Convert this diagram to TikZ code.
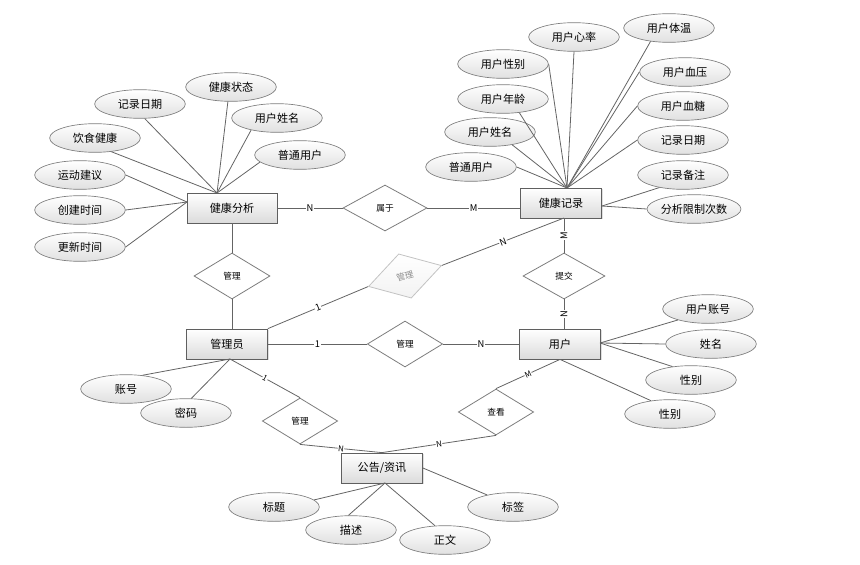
\documentclass[tikz,border=0pt]{standalone}
\usepackage{fontspec}
\setmainfont{Noto Sans CJK SC}
\usetikzlibrary{shapes.geometric,shadows}
\definecolor{lc}{RGB}{100,100,100}
\definecolor{eb}{RGB}{125,125,125}
\definecolor{bb}{RGB}{95,95,95}
\definecolor{gb}{RGB}{195,195,195}
\definecolor{gt}{RGB}{140,140,140}
\begin{document}
\begin{tikzpicture}[x=0.75pt,y=-0.75pt,
  ent/.style={draw=bb, line width=0.6pt, top color=white, bottom color=black!14,
    minimum width=60.75pt, minimum height=22.5pt, inner sep=1pt,
    font=\fontsize{8.3}{10}\selectfont,
    drop shadow={shadow xshift=1pt,shadow yshift=-1pt,opacity=0.25}},
  attr/.style={ellipse, draw=eb, line width=0.5pt, top color=white, bottom color=black!12,
    minimum width=68pt, minimum height=21.5pt, inner sep=0pt,
    font=\fontsize{8.3}{10}\selectfont},
  rel/.style={diamond, draw=eb, line width=0.6pt, fill=white,
    minimum width=56.5pt, minimum height=34.5pt, inner sep=0pt,
    font=\fontsize{6.5}{8}\selectfont},
  con/.style={draw=lc, line width=0.6pt},
  card/.style={fill=white, inner sep=0.6pt, midway, font=\fontsize{7}{8}\selectfont},
  cards/.style={fill=white, inner sep=0.4pt, midway, sloped, font=\fontsize{6}{7}\selectfont}
]
\useasboundingbox (0,0) rectangle (860,564);

% entities
\node[ent, minimum width=67.5pt] (E1) at (232,208) {健康分析};
\node[ent] (E2) at (561,203) {健康记录};
\node[ent] (E3) at (227,344) {管理员};
\node[ent] (E4) at (560,344) {用户};
\node[ent] (E5) at (382,468) {公告/资讯};

% relationships
\node[rel, minimum width=63pt] (R1) at (385,208) {属于};
\node[rel, minimum width=57pt] (R2) at (232,276) {管理};
\node[rel, minimum width=61.5pt] (R3) at (564,276) {提交};
\node[rel] (R4) at (405,344) {管理};
\node[rel] (R5) at (300,421) {管理};
\node[rel] (R6) at (496,412) {查看};
\node[rel, draw=gb, top color=white, bottom color=black!5, text=gt, minimum width=57pt, rotate=16] (G) at (405,276) {管理};

% hubs
\coordinate (hA) at (217,193);
\coordinate (hL) at (187,202);
\coordinate (hB) at (567,188);
\coordinate (hR) at (602,206);
\coordinate (e2b) at (564,218);
\coordinate (hC) at (230,359);
\coordinate (hD) at (600,343);
\coordinate (hE) at (385,483);

% relationship connectors
\draw[con] (E1.east) -- node[card]{N} (R1.west);
\draw[con] (R1.east) -- node[card]{M} (R1.east -| E2.west);
\draw[con] (E1.south) -- (R2.north);
\draw[con] (R2.south) -- (R2.south |- E3.north);
\draw[con] (R3.north) -- node[card, rotate=90]{M} (e2b);
\draw[con] (R3.south) -- node[card, rotate=90]{N} (R3.south |- E4.north);
\draw[con] (E3.east) -- node[card]{1} (R4.west);
\draw[con] (R4.east) -- node[card]{N} (R4.east -| E4.west);
\draw[con] (E3.north east) -- node[cards, font=\fontsize{7}{8}\selectfont]{1} (G.west);
\draw[con] (G.east) -- node[cards, font=\fontsize{7}{8}\selectfont]{N} (e2b);
\draw[con] (hC) -- node[cards]{1} (R5.north);
\draw[con] (R5.south) -- node[cards]{N} (E5.north);
\draw[con] (E4.south) -- node[cards]{M} (R6.north);
\draw[con] (R6.south) -- node[cards]{N} (E5.north);

% attributes of 健康分析
\node[attr] (a1) at (140,104) {记录日期};
\node[attr] (a2) at (231,87) {健康状态};
\node[attr] (a3) at (277,118) {用户姓名};
\node[attr] (a4) at (95,138) {饮食健康};
\node[attr] (a5) at (300,155) {普通用户};
\node[attr] (a6) at (80,175) {运动建议};
\node[attr] (a7) at (80,210) {创建时间};
\node[attr] (a8) at (80,247) {更新时间};
\draw[con] (a1.-72) -- (hA);
\draw[con] (a2.258) -- (hA);
\draw[con] (a3.205) -- (hA);
\draw[con] (a4.-40) -- (hA);
\draw[con] (a5.190) -- (hA);
\draw[con] (a6.east) -- (hL);
\draw[con] (a7.east) -- (hL);
\draw[con] (a8.east) -- (hL);

% attributes of 健康记录
\node[attr] (b1) at (574,37) {用户心率};
\node[attr] (b2) at (669,28) {用户体温};
\node[attr] (b3) at (503,64) {用户性别};
\node[attr] (b4) at (685,72) {用户血压};
\node[attr] (b5) at (503,99) {用户年龄};
\node[attr] (b6) at (683,106) {用户血糖};
\node[attr] (b7) at (490,132) {用户姓名};
\node[attr] (b8) at (683,140) {记录日期};
\node[attr] (b9) at (471,167) {普通用户};
\node[attr] (b10) at (683,175) {记录备注};
\node[attr] (b11) at (694,209) {分析限制次数};
\draw[con] (b1.south) -- (hB);
\draw[con] (b2.216) -- (hB);
\draw[con] (b3.east) -- (hB);
\draw[con] (b4.west) -- (hB);
\draw[con] (b5.-40) -- (hB);
\draw[con] (b6.west) -- (hB);
\draw[con] (b7.-30) -- (hB);
\draw[con] (b8.west) -- (hB);
\draw[con] (b9.east) -- (hB);
\draw[con] (b10.208) -- (hR);
\draw[con] (b11.west) -- (hR);

% attributes of 管理员
\node[attr] (c1) at (126,389) {账号};
\node[attr] (c2) at (186,413) {密码};
\draw[con] (c1.40) -- (hC);
\draw[con] (c2.70) -- (hC);

% attributes of 用户
\node[attr] (d1) at (708,309) {用户账号};
\node[attr] (d2) at (711,344) {姓名};
\node[attr] (d3) at (691,380) {性别};
\node[attr] (d4) at (670,414) {性别};
\draw[con] (d1.200) -- (hD);
\draw[con] (d2.west) -- (hD);
\draw[con] (d3.144) -- (hD);
\draw[con] (d4.145) -- (E4.south);

% attributes of 公告/资讯
\node[attr] (f1) at (274,507) {标题};
\node[attr] (f2) at (351,530) {描述};
\node[attr] (f3) at (445,540) {正文};
\node[attr] (f4) at (513,507) {标签};
\draw[con] (f1.10) -- (hE);
\draw[con] (f2.100) -- (hE);
\draw[con] (f3.125) -- (hE);
\draw[con] (f4.155) -- (E5.east);
\end{tikzpicture}
\end{document}
